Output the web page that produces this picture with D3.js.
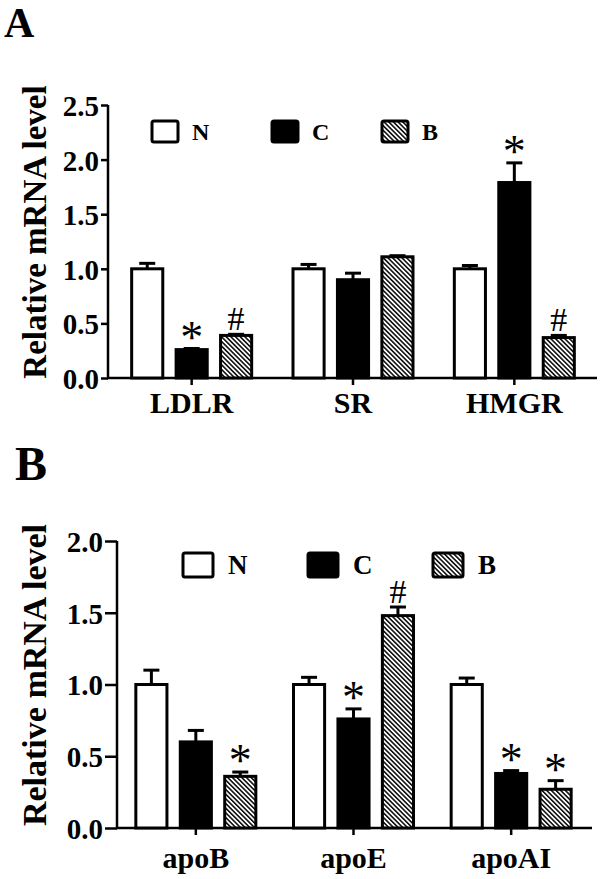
<!DOCTYPE html>
<html>
<head>
<meta charset="utf-8">
<script src="https://cdn.jsdelivr.net/npm/d3@7"></script>
<style>
  body { margin: 0; background: #fff; }
  svg { display: block; font-family: 'Liberation Serif', 'Times New Roman', serif; }
  .axis path, .axis line { stroke: #000; stroke-width: 2.5; }
  .axis text { font-weight: bold; fill: #000; }
</style>
</head>
<body>
<svg id="chart" width="600" height="879"></svg>
<script>
// DATA
const seriesKeys = ['N', 'C', 'B'];

// panel A
const groupsA = ['LDLR', 'SR', 'HMGR'];
const nA = [1.00, 1.00, 1.00];
const cA = [0.26, 0.90, 1.79];
const bA = [0.39, 1.11, 0.37];
const nAerr = [0.05, 0.04, 0.03];
const cAerr = [0.01, 0.06, 0.18];
const bAerr = [0.01, 0.01, 0.02];
const nAmark = ['', '', ''];
const cAmark = ['*', '', '*'];
const bAmark = ['#', '', '#'];
const ticksA = [0, 0.5, 1.0, 1.5, 2.0, 2.5];

// panel B
const groupsB = ['apoB', 'apoE', 'apoAI'];
const nB = [1.00, 1.00, 1.00];
const cB = [0.60, 0.76, 0.38];
const bB = [0.36, 1.48, 0.27];
const nBerr = [0.10, 0.05, 0.045];
const cBerr = [0.08, 0.07, 0.02];
const bBerr = [0.03, 0.06, 0.06];
const nBmark = ['', '', ''];
const cBmark = ['', '*', '*'];
const bBmark = ['*', '#', '*'];
const ticksB = [0, 0.5, 1.0, 1.5, 2.0];

const yTitle = 'Relative mRNA level';

// SETUP
const svg = d3.select('#chart');
svg.append('rect').attr('width', 600).attr('height', 879).attr('fill', '#fff');

// hatch for B series
const hatch = svg.append('defs').append('pattern')
  .attr('id', 'hatch')
  .attr('patternUnits', 'userSpaceOnUse')
  .attr('width', 3.3)
  .attr('height', 3.3)
  .attr('patternTransform', 'rotate(-45)');
hatch.append('rect').attr('width', 3.3).attr('height', 3.3).attr('fill', '#fff');
hatch.append('line')
  .attr('x1', 0.8).attr('y1', 0).attr('x2', 0.8).attr('y2', 3.3)
  .attr('stroke', '#000').attr('stroke-width', 1.5);

const fills = { N: '#fff', C: '#000', B: 'url(#hatch)' };

function buildRows(groups, means, errs, marks) {
  return groups.map((g, i) => ({
    group: g,
    bars: seriesKeys.map((k, j) => ({
      key: k, group: g, v: means[j][i], e: errs[j][i], mark: marks[j][i]
    }))
  }));
}

function drawPanel(cfg) {
  const { rows, ticks, yMax } = cfg;
  const y = d3.scaleLinear().domain([0, yMax]).range([cfg.y0, cfg.y1]);
  const x0 = d3.scaleBand().domain(rows.map(d => d.group)).range(cfg.xRange).padding(0);
  const x1 = d3.scaleBand().domain(seriesKeys).range([-60, 60]).paddingInner(0.3);
  const g = svg.append('g');

  // panel letter
  g.append('text')
    .attr('x', cfg.letterX).attr('y', cfg.letterY)
    .attr('font-size', cfg.letterSize).attr('font-weight', 'bold')
    .text(cfg.letter);

  // y axis title
  g.append('text')
    .attr('transform', `translate(${cfg.titleX},${cfg.titleY}) rotate(-90)`)
    .attr('text-anchor', 'middle')
    .attr('font-size', cfg.titleSize).attr('font-weight', 'bold')
    .text(yTitle);

  // y axis
  const ya = g.append('g').attr('class', 'axis')
    .attr('transform', `translate(${cfg.axisX},0)`)
    .call(d3.axisLeft(y).tickValues(ticks).tickFormat(d3.format('.1f'))
      .tickSize(cfg.yTick).tickSizeOuter(0).tickPadding(2))
    .attr('font-family', null).attr('font-size', 29);
  ya.selectAll('text').attr('dy', '0.36em');
  ya.select('.domain').attr('d', `M0,${cfg.y0 + 1}V${cfg.y1}`);

  // x axis
  const xa = g.append('g').attr('class', 'axis')
    .attr('transform', `translate(0,${cfg.y0})`)
    .call(d3.axisBottom(x0).tickSize(7).tickSizeOuter(0).tickPadding(cfg.xPad))
    .attr('font-family', null).attr('font-size', 30);
  xa.select('.domain').attr('d', `M${cfg.axisX - 1},0H${cfg.axisEnd}`);

  const grp = g.append('g').selectAll('g').data(rows).enter().append('g')
    .attr('transform', d => `translate(${x0(d.group) + x0.bandwidth() / 2},0)`);

  const bar = grp.selectAll('g').data(d => d.bars).enter().append('g');

  // error bars (upper only)
  bar.append('line')
    .attr('x1', d => x1(d.key) + x1.bandwidth() / 2)
    .attr('x2', d => x1(d.key) + x1.bandwidth() / 2)
    .attr('y1', d => y(d.v)).attr('y2', d => y(d.v + d.e))
    .attr('stroke', '#000').attr('stroke-width', 3);
  bar.append('line')
    .attr('x1', d => x1(d.key) + x1.bandwidth() / 2 - 8)
    .attr('x2', d => x1(d.key) + x1.bandwidth() / 2 + 8)
    .attr('y1', d => y(d.v + d.e)).attr('y2', d => y(d.v + d.e))
    .attr('stroke', '#000').attr('stroke-width', 3);

  bar.append('rect')
    .attr('x', d => x1(d.key))
    .attr('y', d => y(d.v))
    .attr('width', x1.bandwidth())
    .attr('height', d => y(0) - y(d.v))
    .attr('fill', d => fills[d.key])
    .attr('stroke', '#000').attr('stroke-width', 3);

  // significance marks
  bar.filter(d => d.mark).append('text')
    .attr('x', d => x1(d.key) + x1.bandwidth() / 2)
    .attr('y', d => y(d.v + d.e) + (d.mark === '*' ? 4 : -4))
    .attr('text-anchor', 'middle')
    .attr('font-size', d => d.mark === '*' ? 46 : 34)
    .text(d => d.mark);

  // legend
  const lg = g.append('g').selectAll('g').data(seriesKeys).enter().append('g')
    .attr('transform', (d, i) => `translate(${cfg.legendX[i]},${cfg.legendY})`);
  lg.append('rect')
    .attr('width', cfg.legendW).attr('height', cfg.legendH)
    .attr('rx', 2)
    .attr('fill', d => fills[d])
    .attr('stroke', '#000').attr('stroke-width', 3);
  lg.append('text')
    .attr('x', cfg.legendW + cfg.legendGap)
    .attr('y', cfg.legendH / 2)
    .attr('dy', '0.35em')
    .attr('font-size', cfg.legendSize).attr('font-weight', 'bold')
    .text(d => d);
}

drawPanel({
  letter: 'A', letterX: 4, letterY: 37, letterSize: 42,
  rows: buildRows(groupsA, [nA, cA, bA], [nAerr, cAerr, bAerr], [nAmark, cAmark, bAmark]),
  ticks: ticksA, yMax: 2.5, y0: 378, y1: 105,
  xRange: [111, 595], axisX: 108, axisEnd: 597, yTick: 7, xPad: 7,
  titleX: 46, titleY: 232, titleSize: 33,
  legendX: [152, 272, 382], legendY: 121, legendW: 26, legendH: 21, legendGap: 14, legendSize: 24
});

drawPanel({
  letter: 'B', letterX: 15, letterY: 480, letterSize: 48,
  rows: buildRows(groupsB, [nB, cB, bB], [nBerr, cBerr, bBerr], [nBmark, cBmark, bBmark]),
  ticks: ticksB, yMax: 2.0, y0: 828, y1: 541,
  xRange: [117, 590], axisX: 117, axisEnd: 592, yTick: 12, xPad: 12,
  titleX: 46, titleY: 675, titleSize: 34,
  legendX: [183, 308, 433], legendY: 553, legendW: 30, legendH: 24, legendGap: 15, legendSize: 27
});
</script>
</body>
</html>
